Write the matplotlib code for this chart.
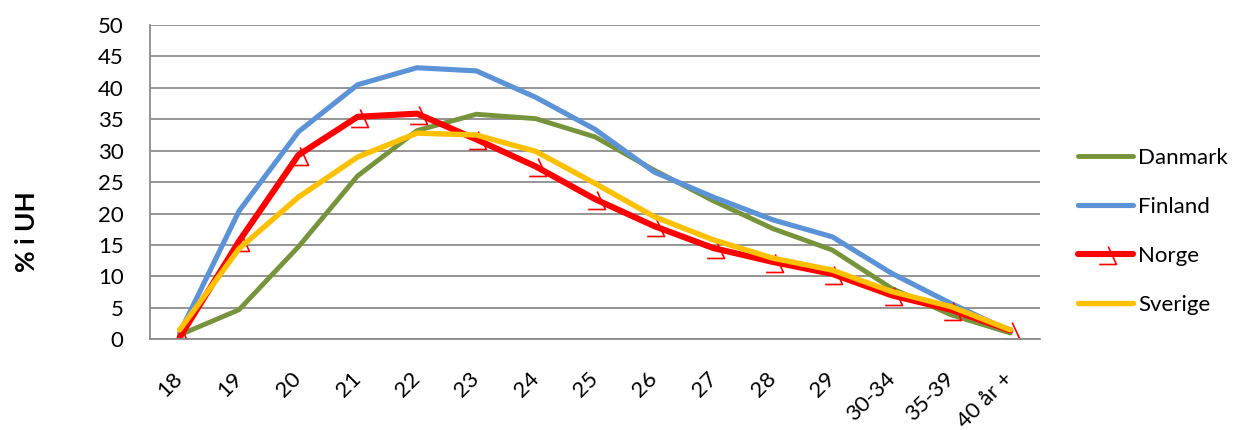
import matplotlib
matplotlib.use("Agg")
import matplotlib.pyplot as plt
from matplotlib.path import Path
import numpy as np

plt.rcParams['font.family'] = ['Lato', 'DejaVu Sans']

# Age groups and share (%) in higher education per country
categories = ["18", "19", "20", "21", "22", "23", "24", "25", "26", "27",
              "28", "29", "30-34", "35-39", "40 år +"]
danmark = [0.7, 4.7, 14.7, 26.0, 33.2, 35.8, 35.1, 32.2, 26.9, 22.0, 17.6, 14.2, 8.1, 3.9, 1.0]
finland = [1.0, 20.4, 33.0, 40.5, 43.2, 42.7, 38.5, 33.4, 26.6, 22.6, 19.0, 16.3, 10.5, 5.7, 1.3]
norge = [0.3, 15.6, 29.3, 35.4, 35.9, 31.8, 27.5, 22.3, 18.0, 14.5, 12.3, 10.4, 7.0, 4.7, 1.4]
sverige = [1.5, 14.4, 22.6, 29.0, 32.8, 32.5, 29.9, 24.8, 19.5, 15.8, 12.9, 11.0, 7.6, 5.2, 1.5]

series = [
    ("Danmark", danmark, "#77933C", 3.5),
    ("Finland", finland, "#5B93D6", 3.7),
    ("Norge", norge, "#FF0000", 4.4),
    ("Sverige", sverige, "#FFC000", 3.9),
]

# Hook-shaped marker used for the Norge series
hook = Path([(-0.73, -1.0), (1.0, -1.0), (0.17, 0.8)],
            [Path.MOVETO, Path.LINETO, Path.LINETO])

W, H = 1237, 430
fig = plt.figure(figsize=(W / 100, H / 100), dpi=100)
ax = fig.add_axes([150 / W, 1 - 339.3 / H, 890 / W, (339.3 - 25) / H])

x = np.arange(len(categories))
for name, vals, color, lw in series:
    if name == "Norge":
        ax.plot(x, vals, color=color, lw=lw, label=name, marker=hook,
                markersize=14.4, markerfacecolor="none", markeredgecolor=color,
                markeredgewidth=1.2, solid_joinstyle="round", solid_capstyle="round")
    else:
        ax.plot(x, vals, color=color, lw=lw, label=name,
                solid_joinstyle="round", solid_capstyle="round")

ax.set_xlim(-0.5, len(categories) - 0.5)
ax.set_ylim(0, 50)
ax.set_yticks(np.arange(0, 51, 5))
ax.yaxis.grid(True, color="#8C8C8C", lw=1.3)
ax.set_axisbelow(True)
for s in ["top", "right"]:
    ax.spines[s].set_visible(False)
for s in ["left", "bottom"]:
    ax.spines[s].set_color("#8C8C8C")
    ax.spines[s].set_linewidth(1.3)

ax.set_xticks(x)
ax.set_xticklabels(categories, rotation=45, ha="right", va="center",
                   rotation_mode="anchor", fontsize=16)
ax.tick_params(axis="x", length=0, pad=26)
ax.tick_params(axis="y", length=0, pad=19, labelsize=16)

fig.text(27 / W, 1 - 232 / H, "% i UH", rotation=90, ha="center", va="center",
         fontsize=19, fontweight="bold")

handles, labels = ax.get_legend_handles_labels()
fig.legend(handles, labels, loc="center left",
           bbox_to_anchor=(1078 / W, 1 - 231.5 / H), frameon=False,
           fontsize=16, handlelength=2.48, handletextpad=0.23,
           labelspacing=1.3, borderpad=0, borderaxespad=0)

fig.savefig("out.png", dpi=100)
